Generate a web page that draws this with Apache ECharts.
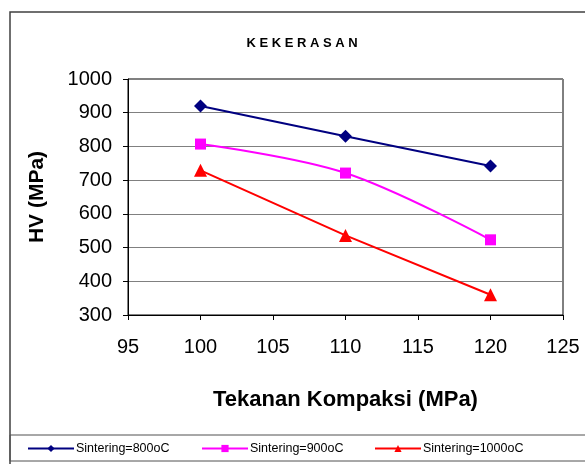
<!DOCTYPE html>
<html>
<head>
<meta charset="utf-8">
<script src="https://cdn.jsdelivr.net/npm/echarts@6/dist/echarts.min.js"></script>
<style>
  html, body { margin: 0; padding: 0; background: #fff; }
  #chart { width: 585px; height: 464px; }
</style>
</head>
<body>
<div id="chart"></div>
<script>
const tekanan = [100, 110, 120];
const sinter800 = [920, 830, 742];
const sinter900 = [807, 721, 523];
const sinter1000 = [729, 536, 360];
const seriesNames = ['Sintering=800oC', 'Sintering=900oC', 'Sintering=1000oC'];
const legendLeft = [22, 196, 369];

const chart = echarts.init(document.getElementById('chart'));
const font = '"Liberation Sans", Arial, sans-serif';

function pairs(vals) {
    return tekanan.map((x, i) => [x, vals[i]]);
}

// one legend per series so each sits where it does in the picture
const legends = seriesNames.map((name, i) => ({
    top: 437, left: legendLeft[i], itemWidth: 46, itemHeight: 9, itemGap: 0,
    textStyle: { fontFamily: font, fontSize: 12.5, color: '#000', padding: [0, 0, 0, -3] },
    data: [name]
}));

chart.setOption({
    animation: false,
    title: {
        text: 'K E K E R A S A N',
        left: 297, top: 32, textAlign: 'center',
        textStyle: { fontFamily: font, fontSize: 13, fontWeight: 'bold', color: '#000' }
    },
    graphic: [
        { type: 'rect', shape: { x: 10, y: 12, width: 590, height: 460 },
          style: { fill: 'none', stroke: '#404040', lineWidth: 1.5 } },
        { type: 'rect', shape: { x: 10, y: 435, width: 590, height: 26 },
          style: { fill: 'none', stroke: '#505050', lineWidth: 1 } }
    ],
    legend: legends,
    grid: {
        left: 128, top: 79, right: 22, bottom: 149,
        show: true, borderColor: '#000', borderWidth: 1, backgroundColor: '#fff'
    },
    xAxis: {
        type: 'value', min: 95, max: 125, interval: 5,
        name: 'Tekanan Kompaksi (MPa)', nameLocation: 'middle', nameGap: 74,
        nameTextStyle: { fontFamily: font, fontSize: 22, fontWeight: 'bold', color: '#000' },
        axisLine: { lineStyle: { color: '#000', width: 1 } },
        axisTick: { show: true, length: 5, lineStyle: { color: '#000' } },
        axisLabel: { fontFamily: font, fontSize: 20, color: '#000', margin: 22 },
        splitLine: { show: false }
    },
    yAxis: {
        type: 'value', min: 300, max: 1000, interval: 100,
        name: 'HV (MPa)', nameLocation: 'middle', nameGap: 80, nameRotate: 90,
        nameTextStyle: { fontFamily: font, fontSize: 21, fontWeight: 'bold', color: '#000' },
        axisLine: { show: true, lineStyle: { color: '#000', width: 1 } },
        axisTick: { show: true, length: 5, lineStyle: { color: '#000' } },
        axisLabel: { fontFamily: font, fontSize: 20, color: '#000', margin: 16, formatter: v => String(v) },
        splitLine: { show: true, lineStyle: { color: '#808080', width: 1 } }
    },
    series: [
        {
            name: seriesNames[0], type: 'line', data: pairs(sinter800),
            symbol: 'diamond', symbolSize: 13,
            lineStyle: { color: '#000080', width: 2 },
            itemStyle: { color: '#000080' }
        },
        {
            name: seriesNames[1], type: 'line', data: pairs(sinter900), smooth: 0.35,
            symbol: 'rect', symbolSize: 11,
            lineStyle: { color: '#ff00ff', width: 2 },
            itemStyle: { color: '#ff00ff' }
        },
        {
            name: seriesNames[2], type: 'line', data: pairs(sinter1000),
            symbol: 'triangle', symbolSize: 13,
            lineStyle: { color: '#ff0000', width: 2 },
            itemStyle: { color: '#ff0000' }
        }
    ]
});
</script>
</body>
</html>
